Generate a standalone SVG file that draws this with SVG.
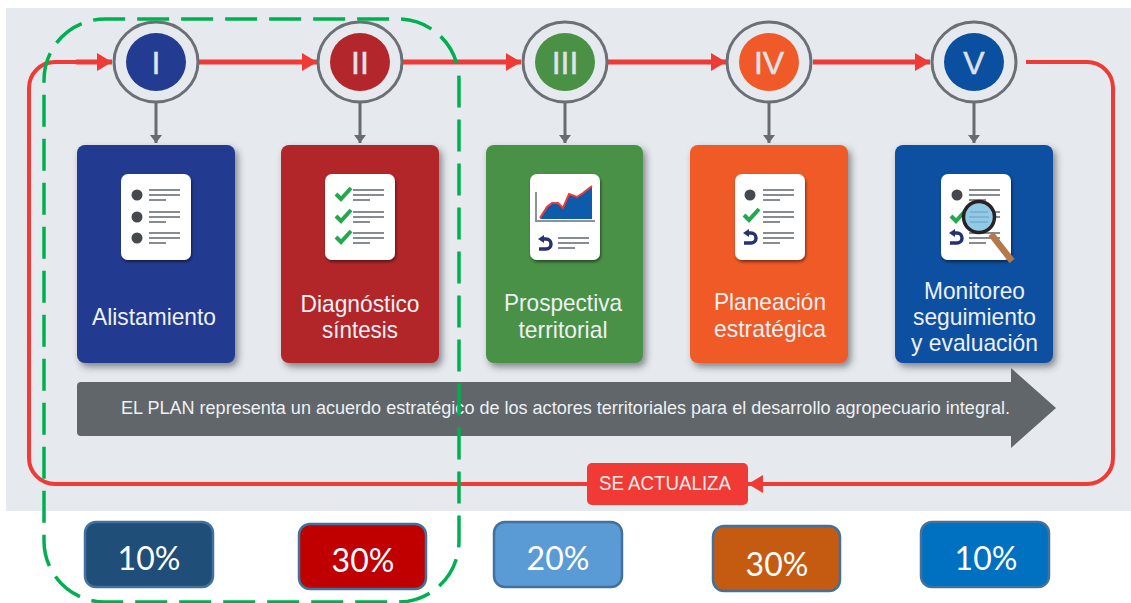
<svg xmlns="http://www.w3.org/2000/svg" xmlns:xlink="http://www.w3.org/1999/xlink" width="1131" height="603" viewBox="0 0 1131 603">
<style>
.ring{fill:#e6e9ed;stroke:#6a7075;stroke-width:3}
.num{font:32px "Liberation Sans",Arial,sans-serif;fill:#dfe2e8;stroke:#dfe2e8;stroke-width:.5;text-anchor:middle}
.lab{font:24px "Liberation Sans",Arial,sans-serif;fill:#eef0f3;text-anchor:middle}
.box{filter:url(#sh)}
.card{fill:#fff;filter:url(#sh2)}
.icon{filter:url(#soft)}
.ln{stroke:#868c90;stroke-width:2.2;fill:none}
.dot{fill:#45494d}
.tick{fill:none;stroke:#22a84f;stroke-width:4}
.back{fill:none;stroke:#28306f;stroke-width:3.5}
.red{fill:none;stroke:#ef3a36}
.gray{fill:none;stroke:#666c71;stroke-width:3}
.pct{stroke:#41719c;stroke-width:2.5}
.pt{font:32px Lato,"Liberation Sans",sans-serif;fill:#fff;text-anchor:middle}
</style>
<defs>
<filter id="sh" x="-15%" y="-15%" width="130%" height="130%"><feDropShadow dx="3" dy="4" stdDeviation="3.5" flood-color="#30363c" flood-opacity=".55"/></filter>
<filter id="sh2" x="-20%" y="-20%" width="140%" height="140%"><feDropShadow dx="1" dy="2" stdDeviation="1.5" flood-color="#000" flood-opacity=".5"/></filter>
<filter id="soft" x="-5%" y="-5%" width="110%" height="110%"><feGaussianBlur stdDeviation=".5"/></filter>
<marker id="ra" markerUnits="userSpaceOnUse" markerWidth="15" markerHeight="18" refX="15" refY="9" orient="auto"><path d="M0 0L15 9L0 18z" fill="#ef3a36"/></marker>
<marker id="ga" markerUnits="userSpaceOnUse" markerWidth="9" markerHeight="13" refX="8" refY="6.5" orient="auto"><path d="M0 .5L8 6.5L0 12.5z" fill="#666c71"/></marker>
<g id="t3"><path class="ln" d="M28 0H59M28 5H59M28 10H45"/></g>
<g id="bk"><path class="back" d="M12 2H16A5 5 0 0 1 16 12H9"/><path d="M8 2L14 -2V6z" fill="#28306f"/></g>
<path id="tk" class="tick" d="M0 6L5 11L15 0"/>
<rect id="cd" class="card" width="70" height="86" rx="7"/>
</defs>

<rect x="6" y="8" width="1125" height="503" fill="#e6e9ed"/>

<g id="connectors">
<path class="red" stroke-width="4" d="M80 62H55A26 26 0 0 0 29 88V458A26 26 0 0 0 55 484H590"/>
<path class="red" stroke-width="4" d="M1026 62H1087A26 26 0 0 1 1113 88V458A26 26 0 0 1 1087 484H748" marker-end="url(#ra)"/>
<path class="red" stroke-width="5" d="M76 62H112" marker-end="url(#ra)"/>
<path class="red" stroke-width="5" d="M198 62H317" marker-end="url(#ra)"/>
<path class="red" stroke-width="5" d="M403 62H521" marker-end="url(#ra)"/>
<path class="red" stroke-width="5" d="M608 62H726" marker-end="url(#ra)"/>
<path class="red" stroke-width="5" d="M813 62H930" marker-end="url(#ra)"/>
<path class="gray" d="M156 102V143" marker-end="url(#ga)"/>
<path class="gray" d="M360 102V143" marker-end="url(#ga)"/>
<path class="gray" d="M565 102V143" marker-end="url(#ga)"/>
<path class="gray" d="M769 102V143" marker-end="url(#ga)"/>
<path class="gray" d="M974 102V143" marker-end="url(#ga)"/>
</g>

<g id="step-1">
<ellipse class="ring" cx="156" cy="62" rx="42" ry="40"/><ellipse cx="156" cy="62" rx="30" ry="29" fill="#233b90"/>
<text class="num" x="156" y="74">I</text>
<rect class="box" x="77" y="145" width="158" height="218" rx="8" fill="#233b90"/>
<g transform="translate(121 174)"><use href="#cd"/><g class="icon">
<circle class="dot" cx="16" cy="21" r="5.5"/><circle class="dot" cx="16" cy="43" r="5.5"/><circle class="dot" cx="16" cy="64" r="5.5"/>
<use href="#t3" y="16"/><use href="#t3" y="38"/><use href="#t3" y="59"/></g></g>
<text class="lab" x="154" y="325" textLength="124" lengthAdjust="spacingAndGlyphs">Alistamiento</text>
</g>

<g id="step-2">
<ellipse class="ring" cx="360" cy="62" rx="42" ry="40"/><ellipse cx="360" cy="62" rx="30" ry="29" fill="#b2262c"/>
<text class="num" x="360" y="74">II</text>
<rect class="box" x="281" y="145" width="158" height="218" rx="8" fill="#b2262c"/>
<g transform="translate(325 174)"><use href="#cd"/><g class="icon">
<use href="#tk" x="11" y="14"/><use href="#tk" x="11" y="36"/><use href="#tk" x="11" y="57"/>
<use href="#t3" y="16"/><use href="#t3" y="38"/><use href="#t3" y="59"/></g></g>
<text class="lab" x="360" y="312" textLength="119" lengthAdjust="spacingAndGlyphs">Diagnóstico</text><text class="lab" x="360" y="338" textLength="76" lengthAdjust="spacingAndGlyphs">síntesis</text>
</g>

<g id="step-3">
<ellipse class="ring" cx="565" cy="62" rx="42" ry="40"/><ellipse cx="565" cy="62" rx="30" ry="29" fill="#4a9146"/>
<text class="num" x="565" y="74">III</text>
<rect class="box" x="486" y="145" width="157" height="218" rx="8" fill="#4a9146"/>
<g transform="translate(530 174)"><use href="#cd"/><g class="icon">
<path d="M10 45L17 33L22 29L28 29L33 34L39 20L47 23L53 19L62 12V45z" fill="#0f5bab"/>
<path d="M10 44L17 33L22 29L28 29L33 34L39 20L47 23L53 19L62 12" fill="none" stroke="#ef3a36" stroke-width="2"/>
<path d="M6 18V47H65" fill="none" stroke="#8c9296" stroke-width="2"/>
<use href="#bk" y="63"/><use href="#t3" y="64"/></g></g>
<text class="lab" x="563" y="311" textLength="118" lengthAdjust="spacingAndGlyphs">Prospectiva</text><text class="lab" x="563" y="338" textLength="89" lengthAdjust="spacingAndGlyphs">territorial</text>
</g>

<g id="step-4">
<ellipse class="ring" cx="769" cy="62" rx="42" ry="40"/><ellipse cx="769" cy="62" rx="30" ry="29" fill="#f05a28"/>
<text class="num" x="769" y="74">IV</text>
<rect class="box" x="690" y="145" width="158" height="218" rx="8" fill="#f05a28"/>
<g transform="translate(735 174)"><use href="#cd"/><g class="icon">
<circle class="dot" cx="15" cy="21" r="5.5"/><use href="#tk" x="9" y="35"/><use href="#bk" y="57"/>
<use href="#t3" y="16"/><use href="#t3" y="38"/><use href="#t3" y="59"/></g></g>
<text class="lab" x="770" y="310" textLength="112" lengthAdjust="spacingAndGlyphs">Planeación</text><text class="lab" x="770" y="337" textLength="112" lengthAdjust="spacingAndGlyphs">estratégica</text>
</g>

<g id="step-5">
<ellipse class="ring" cx="974" cy="62" rx="42" ry="40"/><ellipse cx="974" cy="62" rx="30" ry="29" fill="#0b4fa0"/>
<text class="num" x="974" y="74">V</text>
<rect class="box" x="895" y="145" width="158" height="218" rx="8" fill="#0b4fa0"/>
<g transform="translate(941 174)"><use href="#cd"/><g class="icon">
<circle class="dot" cx="16" cy="21" r="5.5"/><use href="#tk" x="10" y="36"/><use href="#bk" y="57"/>
<use href="#t3" y="16"/><use href="#t3" y="38"/><use href="#t3" y="59"/>
<path d="M50 60L71 87" stroke="#b5794a" stroke-width="6.5" fill="none"/>
<circle cx="38" cy="43" r="15.5" fill="#8fcbe8" stroke="#2a2424" stroke-width="3.5"/>
<path d="M29 38H47M28 43H48M29 48H47" stroke="#7fb3cf" stroke-width="2" fill="none"/></g></g>
<text class="lab" x="974.500" y="299" textLength="101" lengthAdjust="spacingAndGlyphs">Monitoreo</text><text class="lab" x="974.500" y="325" textLength="123" lengthAdjust="spacingAndGlyphs">seguimiento</text><text class="lab" x="974.500" y="351" textLength="127" lengthAdjust="spacingAndGlyphs">y evaluación</text>
</g>

<g id="banner">
<path d="M81 382H1011V368L1056 408L1011 448V436H81Q77 436 77 432V386Q77 382 81 382z" fill="#60666a"/>
<text x="121" y="414" font-family="'Liberation Sans',Arial,sans-serif" font-size="18" fill="#eef0f3" textLength="889" lengthAdjust="spacingAndGlyphs">EL PLAN representa un acuerdo estratégico de los actores territoriales para el desarrollo agropecuario integral.</text>
</g>

<g id="update">
<rect x="587" y="463" width="161" height="42" rx="5" fill="#ef3a36"/>
<text x="599" y="490" font-family="'Liberation Sans',Arial,sans-serif" font-size="20" fill="#f3e9e6" textLength="132" lengthAdjust="spacingAndGlyphs">SE ACTUALIZA</text>
</g>

<g id="pct-1"><rect class="pct" x="85" y="522" width="128" height="65" rx="11" fill="#1f4e79"/><text class="pt" x="149" y="570">10%</text></g>
<g id="pct-2"><rect class="pct" x="299" y="524" width="127" height="65" rx="11" fill="#c00000"/><text class="pt" x="363" y="572">30%</text></g>
<g id="pct-3"><rect class="pct" x="494" y="522" width="128" height="65" rx="11" fill="#5b9bd5"/><text class="pt" x="558" y="570">20%</text></g>
<g id="pct-4"><rect class="pct" x="713" y="526" width="127" height="65" rx="11" fill="#c55a11"/><text class="pt" x="777" y="576">30%</text></g>
<g id="pct-5"><rect class="pct" x="921" y="522" width="128" height="65" rx="11" fill="#0070c0"/><text class="pt" x="986" y="570">10%</text></g>

<g id="highlight">
<path d="M44 80A61 61 0 0 1 105 19H398A61 61 0 0 1 459 80V541A61 61 0 0 1 398 602H105A61 61 0 0 1 44 541z" fill="none" stroke="#00b050" stroke-width="3.5" stroke-dasharray="32 12" stroke-dashoffset="4.2"/>
</g>
</svg>
